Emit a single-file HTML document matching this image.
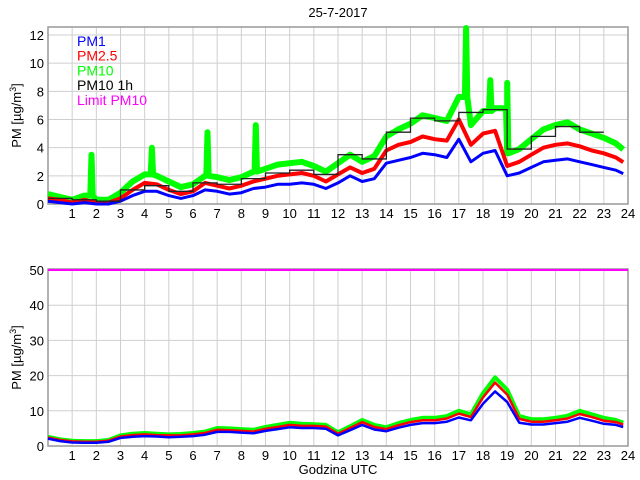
<!DOCTYPE html>
<html><head><meta charset="utf-8"><style>
body{margin:0;background:#fff;}
svg{display:block;font-family:"Liberation Sans",sans-serif;}
</style></head><body>
<svg id="c" width="640" height="480" viewBox="0 0 640 480"></svg>
<script>
const hours=[0,0.5,1,1.5,2,2.5,3,3.5,4,4.5,5,5.5,6,6.5,7,7.5,8,8.5,9,9.5,10,10.5,11,11.5,12,12.5,13,13.5,14,14.5,15,15.5,16,16.5,17,17.5,18,18.5,19,19.5,20,20.5,21,21.5,22,22.5,23,23.5];
const topPM10=[0.7,0.5,0.3,0.6,0.3,0.3,0.8,1.6,2.1,2.0,1.6,1.2,1.4,2.0,1.9,1.7,1.9,2.3,2.5,2.8,2.9,3.0,2.7,2.3,2.9,3.5,3.0,3.4,4.8,5.3,5.7,6.3,6.1,5.9,7.6,5.6,6.6,6.8,3.6,3.9,4.6,5.3,5.6,5.8,5.3,5.0,4.7,4.3];
const topPM25=[0.4,0.3,0.1,0.3,0.1,0.1,0.4,1.0,1.5,1.4,1.0,0.7,0.9,1.5,1.3,1.1,1.3,1.6,1.8,2.0,2.1,2.2,2.0,1.6,2.1,2.6,2.2,2.5,3.8,4.2,4.4,4.8,4.6,4.5,6.0,4.2,5.0,5.2,2.7,3.0,3.5,4.0,4.2,4.3,4.1,3.8,3.6,3.3];
const topPM1=[0.2,0.1,0.0,0.1,0.0,0.0,0.2,0.6,0.9,0.9,0.6,0.4,0.6,1.0,0.9,0.7,0.8,1.1,1.2,1.4,1.4,1.5,1.4,1.1,1.5,2.0,1.6,1.8,2.9,3.1,3.3,3.6,3.5,3.3,4.6,3.0,3.6,3.8,2.0,2.2,2.6,3.0,3.1,3.2,3.0,2.8,2.6,2.4];
const spikeHours=[1.8,4.3,6.6,8.6,17.3,18.3,19.0];
const spikeValues=[3.5,4.0,5.1,5.6,12.5,8.8,8.6];
const hourlyStarts=[0,1,2,3,4,5,6,7,8,9,10,11,12,13,14,15,16,17,18,19,20,21,22];
const hourlyPM10=[0.4,0.3,0.2,1.0,1.3,0.9,1.5,1.4,1.8,2.2,2.4,2.1,3.5,3.2,5.1,6.1,5.9,6.5,6.7,3.9,4.8,5.5,5.1];
const botPM10=[2.6,1.9,1.5,1.4,1.4,1.7,3.0,3.5,3.7,3.5,3.3,3.4,3.7,4.1,5.1,5.0,4.8,4.6,5.4,6.0,6.6,6.3,6.2,6.0,3.9,5.6,7.4,6.0,5.3,6.5,7.4,8.0,8.0,8.5,10.0,9.0,15.0,19.5,16.0,8.5,7.6,7.6,8.0,8.6,10.0,9.0,8.0,7.4];
const botPM25=[2.4,1.7,1.3,1.2,1.2,1.5,2.7,3.1,3.3,3.1,3.0,3.0,3.3,3.7,4.6,4.5,4.3,4.1,4.9,5.4,6.0,5.7,5.7,5.5,3.5,5.1,6.8,5.4,4.8,5.9,6.8,7.3,7.3,7.8,9.2,8.2,13.8,18.0,14.6,7.7,6.9,6.9,7.3,7.8,9.1,8.2,7.2,6.8];
const botPM1=[2.1,1.4,1.0,0.9,0.9,1.2,2.3,2.6,2.8,2.7,2.5,2.6,2.8,3.2,4.0,4.0,3.8,3.6,4.3,4.8,5.3,5.1,5.1,4.9,3.0,4.5,6.0,4.7,4.2,5.2,6.0,6.5,6.5,6.9,8.1,7.3,12.0,15.5,12.5,6.6,6.1,6.1,6.5,6.9,8.0,7.2,6.3,6.0];
const limitPM10=50;
const xTicks=[1,2,3,4,5,6,7,8,9,10,11,12,13,14,15,16,17,18,19,20,21,22,23,24];
const topYTicks=[0,2,4,6,8,10,12];
const botYTicks=[0,10,20,30,40,50];

const svg=document.getElementById('c');
const NS='http://www.w3.org/2000/svg';
function mk(tag,attrs,parent){const e=document.createElementNS(NS,tag);for(const k in attrs)e.setAttribute(k,attrs[k]);(parent||svg).appendChild(e);return e;}
const X0=48,X1=628;
const xs=h=>X0+(X1-X0)*h/24;
const panels=[
 {top:27,bot:204,ymax:12.5,y0:204,yscale:(204-35)/12,ticks:topYTicks,name:'top'},
 {top:269,bot:446,ymax:50,y0:446,yscale:(446-270)/50,ticks:botYTicks,name:'bottom'}];
panels.forEach(p=>{
 p.ys=v=>p.y0-v*p.yscale;
 const g=mk('g',{});
 
 
 xTicks.forEach(t=>{if(t<24)mk('line',{x1:xs(t),x2:xs(t),y1:p.top,y2:p.bot,stroke:'#cfcfcf','stroke-width':1},g);
  const l=mk('text',{x:xs(t),y:p.bot+14,'font-size':13,'text-anchor':'middle',fill:'#000'});l.textContent=t;
  });
 p.ticks.forEach(t=>{const y=p.ys(t);if(t>0)mk('line',{x1:X0,x2:X1,y1:y,y2:y,stroke:'#cfcfcf','stroke-width':1},g);
  const l=mk('text',{x:X0-4,y:y+5,'font-size':13,'text-anchor':'end',fill:'#000'});l.textContent=t;
  });
 const b=mk('rect',{x:X0,y:p.top,width:X1-X0,height:p.bot-p.top,fill:'none',stroke:'#999','stroke-width':1.5});
 
 const yl=mk('text',{x:0,y:0,'font-size':13,'text-anchor':'middle',transform:`translate(21,${(p.top+p.bot)/2}) rotate(-90)`});
 yl.innerHTML='PM [µg/m<tspan dy="-5" font-size="9">3</tspan><tspan dy="5">]</tspan>';
 
});
function series(p,vals,color,w,name,extraH,extraV){
 let pts=hours.map((h,i)=>[h,vals[i]]);
 if(extraH){extraH.forEach((h,i)=>{pts.push([h-0.05,null]);pts.push([h,extraV[i]]);pts.push([h+0.05,null]);});
  pts.sort((a,b)=>a[0]-b[0]);
  pts=pts.map(q=>{if(q[1]!==null)return q;let k=Math.min(47,Math.floor(q[0]/0.5));return [q[0],vals[k]];});}
 pts.push([23.8,vals[47]*0.9]);
 const d=pts.map((q,i)=>(i?'L':'M')+xs(q[0]).toFixed(1)+','+p.ys(q[1]).toFixed(1)).join('');
 const e=mk('path',{d:d,fill:'none',stroke:color,'stroke-width':w,'stroke-linejoin':'round'});
 
}
const T=panels[0],B=panels[1];
series(T,topPM10,'#00ff00',6,'top-pm10-line',spikeHours,spikeValues);
series(T,topPM25,'#ff0000',4,'top-pm25-line');
series(T,topPM1,'#0000ff',3,'top-pm1-line');
let sd='';hourlyStarts.forEach((h,i)=>{const y=T.ys(hourlyPM10[i]);sd+=(i?'L':'M')+xs(h)+','+y+'L'+xs(h+1)+','+y;});
const st=mk('path',{d:sd,fill:'none',stroke:'#222','stroke-width':1.3});

series(B,botPM10,'#00ff00',4,'bottom-pm10-line');
series(B,botPM25,'#ff0000',2.5,'bottom-pm25-line');
series(B,botPM1,'#0000ff',2.5,'bottom-pm1-line');
const lim=mk('line',{x1:X0,x2:X1,y1:B.ys(limitPM10),y2:B.ys(limitPM10),stroke:'#ff00ff','stroke-width':2});

const title=mk('text',{x:338,y:17,'font-size':13,'text-anchor':'middle'});title.textContent='25-7-2017';

const xt=mk('text',{x:338,y:474,'font-size':13,'text-anchor':'middle'});xt.textContent='Godzina UTC';

const leg=[['PM1','#0000ff'],['PM2.5','#ff0000'],['PM10','#00ff00'],['PM10 1h','#000000'],['Limit PM10','#ff00ff']];
leg.forEach((l,i)=>{const t=mk('text',{x:77,y:46+i*14.7,'font-size':14,fill:l[1]});t.textContent=l[0];
 });
</script>
</body></html>
